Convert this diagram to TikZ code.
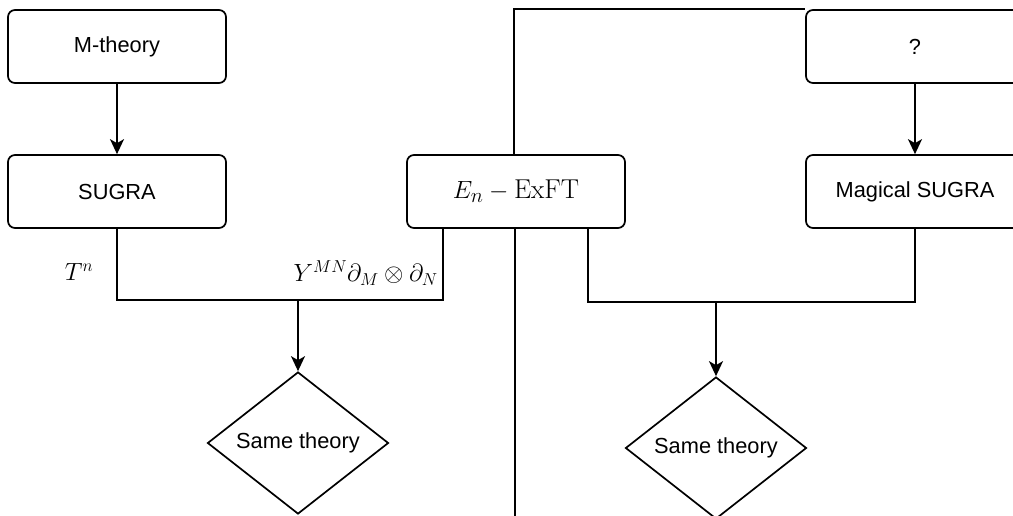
\documentclass[tikz,border=0pt]{standalone}
\usepackage{fontspec}
\setsansfont{Liberation Sans}
\usetikzlibrary{shapes.geometric,arrows.meta}
\begin{document}
\begin{tikzpicture}[x=1pt,y=-1pt,
  box/.style={draw,rounded corners=7pt,line width=1.7pt,minimum width=218pt,minimum height=73pt,inner sep=0pt,font=\sffamily\fontsize{21.8}{24}\selectfont},
  dia/.style={draw,diamond,line width=1.7pt,minimum width=181pt,minimum height=142pt,aspect=1.27,inner sep=0pt,font=\sffamily\fontsize{21.8}{24}\selectfont},
  conn/.style={line width=1.7pt},
  arr/.style={line width=1.7pt,-{Stealth[length=15pt,width=14pt,inset=4pt]}},
  mlab/.style={inner sep=0pt}]
\useasboundingbox (0,0) rectangle (1013,515);
\clip (0,0) rectangle (1013,515);
\node[box] (mt) at (117,46.5) {M-theory};
\node[box] (sg) at (117,191.5) {SUGRA};
\node[box,font=\fontsize{27.3}{30}\selectfont] (en) at (516,191.5) {$E_n-\mathrm{ExFT}$};
\node[box] (q) at (915,46.5) {?};
\node[box] (ms) at (915,191.5) {Magical SUGRA};
\node[dia] (d1) at (298,443) {\raisebox{4pt}{Same theory}};
\node[dia] (d2) at (716,448) {\raisebox{4pt}{Same theory}};
\node[mlab,font=\fontsize{24.2}{27}\selectfont] (tn) at (79,272) {$T^n$};
\node[mlab,anchor=east,font=\fontsize{25.9}{29}\selectfont] (ymn) at (438,273) {$Y^{MN}\partial_M\otimes\partial_N$};
\coordinate (j1) at (298,300);
\coordinate (j2) at (716,302);
\coordinate (tl) at (515,13);
\coordinate (bl) at (515,520);
\draw[arr] (mt) -- (sg);
\draw[arr] (q) -- (ms);
\draw[conn] (sg.south) |- (j1) -| ([xshift=-73pt]en.south);
\draw[arr] (j1) -- (d1.north);
\draw[conn] ([xshift=72pt]en.south) |- (j2) -| (ms.south);
\draw[arr] (j2) -- (d2.north);
\draw[conn] ([xshift=-1pt]en.north) -- ([xshift=-1pt]tl |- en.north) |- (q.north west);
\draw[conn] ([xshift=-1pt]en.south) -- (bl);
\end{tikzpicture}
\end{document}
